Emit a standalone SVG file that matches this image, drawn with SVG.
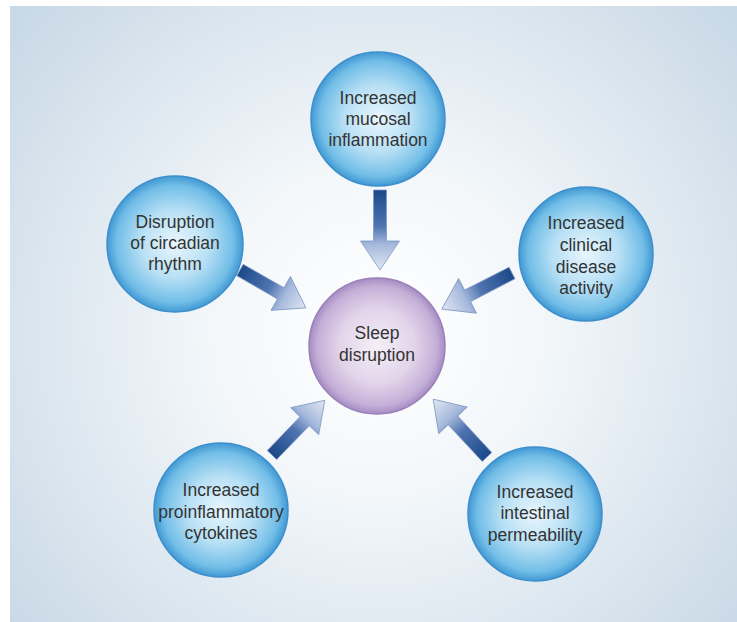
<svg xmlns="http://www.w3.org/2000/svg" width="737" height="622" viewBox="0 0 737 622">
<defs>
<radialGradient id="bg" cx="377" cy="330" r="470" gradientUnits="userSpaceOnUse">
<stop offset="0" stop-color="#ffffff"/>
<stop offset="0.35" stop-color="#f3f7fa"/>
<stop offset="1" stop-color="#c9d9e6"/>
</radialGradient>
<radialGradient id="blue" cx="0.5" cy="0.5" r="0.5">
<stop offset="0" stop-color="#e8f6fd"/>
<stop offset="0.5" stop-color="#b8e0f5"/>
<stop offset="0.86" stop-color="#72bee7"/>
<stop offset="1" stop-color="#4299d4"/>
</radialGradient>
<radialGradient id="purple" cx="0.5" cy="0.5" r="0.5">
<stop offset="0" stop-color="#f5eff7"/>
<stop offset="0.55" stop-color="#e2d4ea"/>
<stop offset="0.88" stop-color="#c4afd7"/>
<stop offset="1" stop-color="#a68cc3"/>
</radialGradient>
<linearGradient id="arr" x1="0" y1="0" x2="1" y2="0">
<stop offset="0" stop-color="#1b4889"/>
<stop offset="0.45" stop-color="#4f74b0"/>
<stop offset="0.68" stop-color="#a6b9dc"/>
<stop offset="1" stop-color="#e0e7f3"/>
</linearGradient>
</defs>
<style>
.c{fill:url(#blue);stroke:#3d8fcc;stroke-width:1.5}
.p{fill:url(#purple);stroke:#9a80ba;stroke-width:1.5}
.t{font-family:"Liberation Sans",Arial,Helvetica,sans-serif;font-size:17.5px;fill:#333333;text-anchor:middle}
.a{fill:url(#arr);stroke:#7f98c4;stroke-width:0.8;stroke-linejoin:miter}
</style>
<rect x="0" y="0" width="737" height="622" fill="#ffffff"/>
<rect x="10" y="6" width="727" height="616" fill="url(#bg)"/>

<g id="connectors">
<path class="a" transform="translate(380,190) rotate(90)" d="M0,-6.5 L51,-6.5 L51,-19.5 L80,0 L51,19.5 L51,6.5 L0,6.5 Z"/>
<path class="a" transform="translate(240,270) rotate(29.9)" d="M0,-6.5 L47,-6.5 L47,-19.5 L76,0 L47,19.5 L47,6.5 L0,6.5 Z"/>
<path class="a" transform="translate(512,273) rotate(152.8)" d="M0,-6.5 L50,-6.5 L50,-19.5 L79,0 L50,19.5 L50,6.5 L0,6.5 Z"/>
<path class="a" transform="translate(272,455) rotate(-46)" d="M0,-6.5 L47,-6.5 L47,-19.5 L76,0 L47,19.5 L47,6.5 L0,6.5 Z"/>
<path class="a" transform="translate(487,457) rotate(-132.9)" d="M0,-6.5 L50,-6.5 L50,-19.5 L79,0 L50,19.5 L50,6.5 L0,6.5 Z"/>
</g>

<g id="center">
<circle class="p" cx="377" cy="346" r="68"/>
<text class="t" x="377" y="339">Sleep</text>
<text class="t" x="377" y="361">disruption</text>
</g>

<g id="top">
<circle class="c" cx="378" cy="119" r="67"/>
<text class="t" x="378" y="104">Increased</text>
<text class="t" x="378" y="125">mucosal</text>
<text class="t" x="378" y="146">inflammation</text>
</g>

<g id="left">
<circle class="c" cx="175" cy="244" r="68"/>
<text class="t" x="175" y="228">Disruption</text>
<text class="t" x="175" y="249">of circadian</text>
<text class="t" x="175" y="270">rhythm</text>
</g>

<g id="right">
<circle class="c" cx="586" cy="254" r="67"/>
<text class="t" x="586" y="229">Increased</text>
<text class="t" x="586" y="251">clinical</text>
<text class="t" x="586" y="273">disease</text>
<text class="t" x="586" y="294">activity</text>
</g>

<g id="bottom-left">
<circle class="c" cx="221" cy="510" r="67"/>
<text class="t" x="221" y="496">Increased</text>
<text class="t" x="221" y="518">proinflammatory</text>
<text class="t" x="221" y="539">cytokines</text>
</g>

<g id="bottom-right">
<circle class="c" cx="535" cy="514" r="67"/>
<text class="t" x="535" y="498">Increased</text>
<text class="t" x="535" y="519">intestinal</text>
<text class="t" x="535" y="541">permeability</text>
</g>
</svg>
